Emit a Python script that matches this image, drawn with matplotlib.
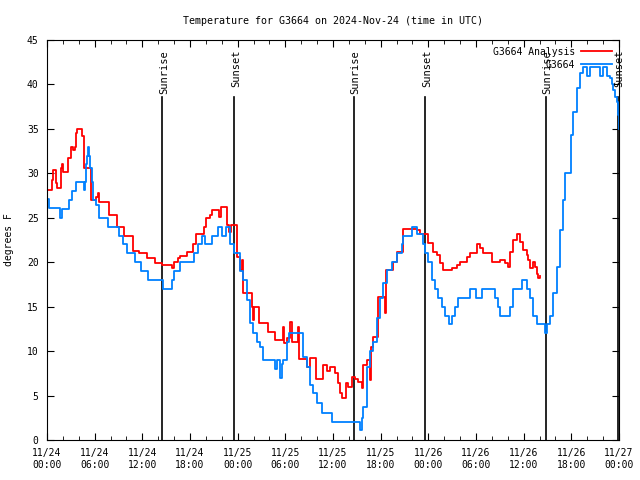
import matplotlib
matplotlib.use("Agg")
import matplotlib.pyplot as plt
from matplotlib.ticker import MultipleLocator

# hours since 11/24 00:00 UTC
obs_hours = [0.0, 0.25, 1.6, 1.9, 2.8, 3.1, 3.7, 4.5, 4.7, 4.8, 4.9, 5.0, 5.2, 5.3, 5.4, 5.7,
             5.8, 6.2, 6.5, 7.7, 9.1, 9.6, 10.1, 11.1, 11.8, 12.7, 14.6, 15.7, 16.0, 16.7,
             18.5, 19.0, 19.5, 19.9, 20.8, 21.5, 22.0, 22.5, 23.0, 23.5, 24.3, 24.7, 25.2,
             25.6, 25.9, 26.4, 26.8, 27.2, 28.7, 28.9, 29.3, 29.6, 29.7, 30.2, 30.5, 31.8,
             32.2, 32.7, 33.1, 33.5, 34.0, 34.6, 35.9, 39.4, 39.6, 39.8, 40.3, 40.7, 41.0,
             41.5, 41.9, 42.3, 42.8, 43.4, 44.1, 44.7, 44.8, 45.9, 46.6, 47.3, 47.6, 48.0,
             48.5, 48.8, 49.2, 49.7, 50.1, 50.6, 51.0, 51.4, 51.7, 53.0, 53.2, 53.9, 54.0,
             54.5, 54.8, 56.1, 56.4, 56.8, 57.0, 58.0, 58.3, 58.7, 59.3, 59.8, 60.2, 60.4,
             60.8, 61.2, 61.7, 62.4, 62.7, 62.9, 63.3, 63.7, 64.2, 64.6, 65.0, 65.2, 65.9,
             66.2, 66.7, 67.1, 67.5, 68.0, 68.4, 69.2, 69.6, 70.0, 70.5, 70.9, 71.1, 71.3,
             71.5, 71.7, 71.9, 72.0]
obs_temp = [27.1, 26.1, 25.0, 26.0, 27.0, 28.0, 29.0, 29.0, 28.1, 29.0, 31.0, 32.0, 33.0, 32.0,
            30.6, 29.0, 27.0, 26.4, 25.0, 24.0, 23.0, 22.0, 21.0, 20.0, 19.0, 18.0, 17.0,
            18.0, 19.0, 20.0, 21.0, 22.0, 23.0, 22.0, 23.0, 24.0, 23.0, 24.0, 22.0, 21.0,
            19.0, 18.0, 15.8, 13.2, 12.0, 11.0, 10.5, 9.0, 8.0, 9.0, 7.0, 8.5, 9.0, 11.0,
            12.0, 12.0, 9.3, 8.2, 6.2, 5.3, 4.2, 3.0, 2.0, 1.1, 2.5, 3.7, 8.2, 10.0, 11.0,
            13.7, 16.0, 17.7, 19.1, 20.0, 21.0, 22.1, 23.0, 24.0, 23.2, 22.0, 21.0, 20.0,
            18.0, 17.0, 16.0, 15.0, 14.0, 13.0, 14.0, 15.0, 16.0, 16.0, 17.0, 17.0, 16.0,
            16.0, 17.0, 17.0, 16.0, 15.0, 14.0, 14.0, 15.0, 17.0, 17.0, 18.0, 18.0, 17.0,
            16.0, 14.0, 13.0, 13.0, 12.0, 13.0, 14.0, 16.5, 19.5, 23.6, 27.0, 30.0, 34.3,
            36.9, 39.6, 41.3, 42.0, 41.0, 42.0, 42.0, 41.0, 42.0, 41.0, 40.7, 40.0, 39.4,
            38.6, 38.0, 36.6, 35.0]

ana_hours = [0.0, 0.6, 0.75, 1.1, 1.25, 1.7, 1.9, 2.0, 2.6, 3.0, 3.3, 3.5, 3.65, 3.8, 4.4,
             4.65, 5.6, 6.2, 6.4, 6.5, 7.8, 8.8, 9.7, 10.8, 11.6, 12.6, 13.6, 14.5, 15.7,
             16.0, 16.5, 16.7, 17.6, 18.4, 18.8, 19.8, 20.0, 20.5, 20.8, 21.7, 21.9, 22.6,
             22.9, 23.2, 23.9, 24.3, 24.5, 24.7, 25.8, 25.9, 26.1, 26.7, 27.8, 28.7, 29.7,
             29.8, 30.2, 30.6, 30.8, 31.6, 31.7, 32.7, 33.1, 33.9, 34.8, 35.3, 35.6, 36.3,
             36.6, 36.9, 37.1, 37.6, 37.9, 38.4, 38.8, 39.1, 39.7, 39.8, 40.3, 40.6, 40.8,
             41.0, 41.7, 42.5, 42.7, 43.6, 44.1, 44.8, 46.6, 46.9, 48.0, 48.6, 49.1, 49.5,
             49.9, 51.0, 51.6, 52.0, 52.9, 53.2, 54.1, 54.5, 54.9, 56.0, 57.0, 57.7, 58.0,
             58.3, 58.7, 59.2, 59.5, 59.9, 60.4, 60.6, 60.8, 61.2, 61.4, 61.7, 61.8, 62.1]
ana_temp = [28.1, 29.2, 30.4, 28.9, 28.4, 30.6, 31.1, 30.2, 31.7, 33.0, 32.6, 33.0, 34.5, 35.0,
            34.2, 30.6, 27.0, 27.3, 27.8, 26.8, 25.3, 24.0, 23.0, 21.3, 21.0, 20.5, 19.9,
            19.7, 19.3, 20.0, 20.5, 20.7, 21.2, 22.0, 23.2, 24.0, 25.0, 25.3, 25.9, 25.1,
            26.2, 24.2, 23.4, 24.2, 20.6, 19.1, 20.2, 16.5, 15.0, 13.5, 15.0, 13.2, 12.2,
            11.25, 12.7, 10.9, 11.5, 13.3, 11.0, 12.7, 9.1, 8.2, 9.2, 6.9, 8.4, 7.8, 8.2,
            7.5, 6.4, 5.3, 4.7, 6.4, 6.0, 7.1, 6.9, 6.5, 5.8, 8.4, 9.0, 6.75, 10.5, 11.6,
            16.1, 14.3, 19.1, 20.0, 21.2, 23.7, 23.6, 23.2, 22.2, 21.2, 20.8, 19.9, 19.1,
            19.4, 19.7, 20.0, 20.6, 21.0, 22.0, 21.6, 21.0, 20.0, 20.2, 19.9, 19.5, 21.2,
            22.5, 23.2, 22.3, 21.4, 20.8, 20.2, 19.3, 20.0, 19.5, 18.7, 18.2, 18.5]

sun_hours = [14.5, 23.55, 38.65, 47.6, 62.8, 71.85]
sun_labels = ["Sunrise", "Sunset", "Sunrise", "Sunset", "Sunrise", "Sunset"]

tick_hours = [0, 6, 12, 18, 24, 30, 36, 42, 48, 54, 60, 66, 72]
tick_labels = ["11/24\n00:00", "11/24\n06:00", "11/24\n12:00", "11/24\n18:00",
               "11/25\n00:00", "11/25\n06:00", "11/25\n12:00", "11/25\n18:00",
               "11/26\n00:00", "11/26\n06:00", "11/26\n12:00", "11/26\n18:00",
               "11/27\n00:00"]

plt.rcParams["font.family"] = "DejaVu Sans Mono"
plt.rcParams["font.size"] = 7

fig = plt.figure(figsize=(6.4, 4.8), dpi=100)
ax = fig.add_axes([47 / 640, 40 / 480, 572 / 640, 400 / 480])

for h, lab in zip(sun_hours, sun_labels):
    ax.plot([h, h], [0, 38.6], color="black", lw=1.2)
    ax.annotate(lab, (h, 43.9), xytext=(1.2, 0), textcoords="offset points",
                rotation=90, ha="center", va="top", fontsize=7.5)

ax.plot(ana_hours, ana_temp, color="#ff0000", lw=1.3, drawstyle="steps-post", label="G3664 Analysis")
ax.plot(obs_hours, obs_temp, color="#0080ff", lw=1.3, drawstyle="steps-post", label="G3664")

ax.set_xlim(0, 72)
ax.set_ylim(0, 45)
ax.set_xticks(tick_hours)
ax.set_xticklabels(tick_labels)
ax.xaxis.set_minor_locator(MultipleLocator(2))
ax.yaxis.set_major_locator(MultipleLocator(5))
ax.tick_params(which="both", direction="in", top=True, right=True)
ax.tick_params(which="major", length=5, pad=6)
ax.tick_params(which="minor", length=3)
ax.set_ylabel("degrees F", labelpad=9)
ax.set_title("Temperature for G3664 on 2024-Nov-24 (time in UTC)", fontsize=7.2, pad=11.5)

ax.legend(loc="upper right", frameon=False, markerfirst=False, handlelength=3.2,
          borderaxespad=0.3, labelspacing=0.3, handletextpad=0.6)

fig.savefig("out.png", dpi=100)
